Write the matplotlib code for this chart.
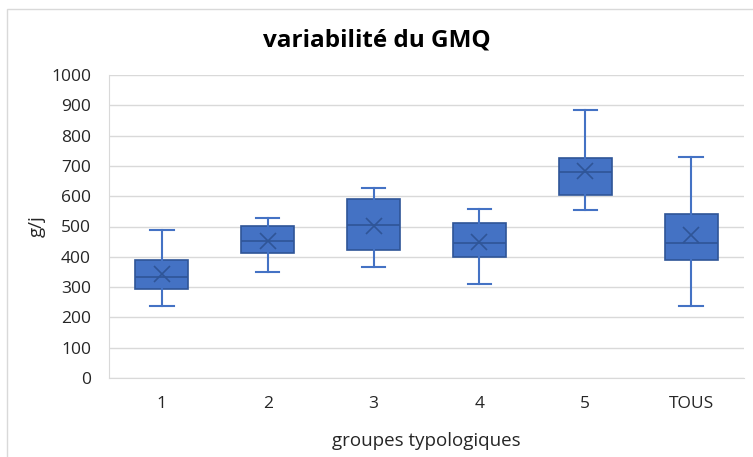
import matplotlib
matplotlib.use("Agg")
import matplotlib.pyplot as plt
from matplotlib.patches import Rectangle

plt.rcParams['font.family'] = ['Open Sans', 'DejaVu Sans']

categories = ["1", "2", "3", "4", "5", "TOUS"]
whisker_low = [238, 350, 367, 311, 554, 238]
q1 = [293, 413, 424, 399, 603, 389]
median = [334, 452, 505, 444, 681, 446]
q3 = [390, 503, 591, 512, 727, 542]
whisker_high = [488, 529, 628, 558, 884, 729]
mean = [343, 452, 502, 449, 683, 472]
y_ticks = [0, 100, 200, 300, 400, 500, 600, 700, 800, 900, 1000]

W, H = 753, 457
fig = plt.figure(figsize=(W / 100, H / 100), dpi=100)
fig.patches.append(Rectangle((7 / W, -0.1), 2, (H - 9) / H + 0.1, transform=fig.transFigure,
                             fill=False, edgecolor='#d9d9d9', linewidth=1.0, zorder=0))

ax = fig.add_axes([109 / W, (H - 378) / H, (744 - 109) / W, (378 - 75) / H])

stats = []
for i, c in enumerate(categories):
    stats.append(dict(label=c, whislo=whisker_low[i], q1=q1[i], med=median[i],
                      q3=q3[i], whishi=whisker_high[i], mean=mean[i], fliers=[]))

fill = '#4472C4'
edge = '#2F5597'
ax.bxp(stats, positions=range(len(categories)), widths=0.5, showmeans=True,
       patch_artist=True, showfliers=False,
       boxprops=dict(facecolor=fill, edgecolor=edge, linewidth=1.2),
       medianprops=dict(color=edge, linewidth=1.2),
       whiskerprops=dict(color=fill, linewidth=1.5),
       capprops=dict(color=fill, linewidth=1.5),
       capwidths=0.22,
       meanprops=dict(marker='x', markeredgecolor=edge, markersize=11, markeredgewidth=1.2))

ax.set_xlim(-0.5, len(categories) - 0.5)
ax.set_ylim(0, 1000)
ax.set_yticks(y_ticks)
ax.set_xticks(range(len(categories)))
ax.set_xticklabels(categories)
ax.yaxis.grid(True, color='#d9d9d9', linewidth=1.0)
ax.set_axisbelow(True)
for s in ['top', 'right']:
    ax.spines[s].set_visible(False)
ax.spines['left'].set_color('#d9d9d9')
ax.spines['bottom'].set_color('#d9d9d9')
ax.tick_params(axis='both', length=0, labelsize=12.5, colors='#262626', labelcolor='#262626')
ax.tick_params(axis='y', pad=13)
ax.tick_params(axis='x', pad=13)

ax.set_ylabel('g/j', fontsize=13.5, color='#262626', labelpad=4)
ax.set_xlabel('groupes typologiques', fontsize=13.5, color='#262626', labelpad=14)
fig.text(0.5, (H - 41) / H, 'variabilité du GMQ', ha='center', va='center',
         fontsize=17.5, fontweight='bold', color='black')

fig.savefig('out.png', dpi=100)
